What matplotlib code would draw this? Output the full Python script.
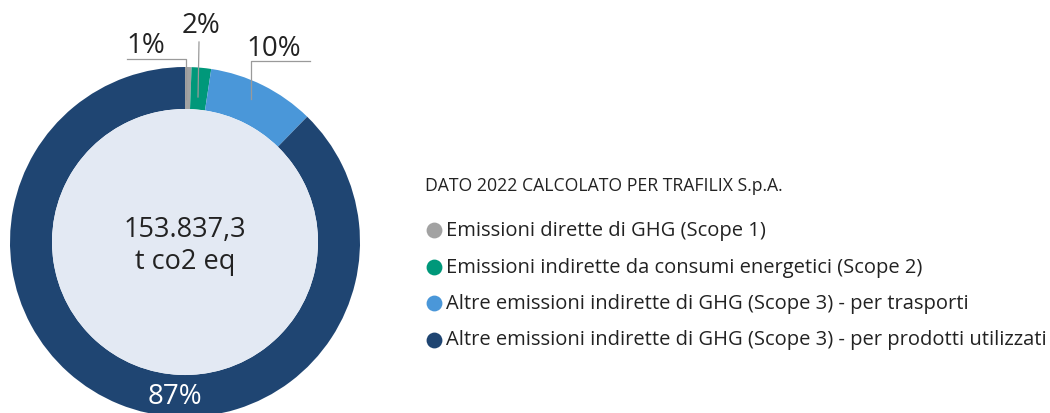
import matplotlib.pyplot as plt
from matplotlib.patches import Circle

plt.rcParams['font.family'] = ['Open Sans', 'DejaVu Sans']

# quote percentuali delle emissioni (t co2 eq)
valori = [0.6, 1.8, 9.9, 87.7]
etichette = ["1%", "2%", "10%", "87%"]
voci = ["Emissioni dirette di GHG (Scope 1)",
        "Emissioni indirette da consumi energetici (Scope 2)",
        "Altre emissioni indirette di GHG (Scope 3) - per trasporti",
        "Altre emissioni indirette di GHG (Scope 3) - per prodotti utilizzati"]
colori = ["#a2a2a2", "#00987a", "#4a97d9", "#1f4572"]
totale = "153.837,3\nt co2 eq"
titolo = "DATO 2022 CALCOLATO PER TRAFILIX S.p.A."

W, H = 1050, 414
fig = plt.figure(figsize=(W / 100, H / 100), dpi=100)
ax = fig.add_axes([0, 0, 1, 1])

def Y(y):
    return H - y

cx, cy, R, r = 185, Y(243), 175, 133
ax.pie(valori, colors=colori, startangle=90, counterclock=False,
       radius=R, center=(cx, cy), wedgeprops=dict(width=R - r, linewidth=0))
ax.add_patch(Circle((cx, cy), r, facecolor="#e3e9f3", edgecolor="none"))

ax.text(cx, Y(246), totale, ha="center", va="center", fontsize=19.5,
        color="#222222", linespacing=1.2)

# linee guida e etichette
lc = "#9a9a9a"
ax.plot([127, 186, 186], [Y(60), Y(60), Y(100)], color=lc, lw=0.9)
ax.plot([199, 198], [Y(43), Y(98)], color=lc, lw=0.9)
ax.plot([310, 251, 251], [Y(62), Y(62), Y(100)], color=lc, lw=0.9)
ax.text(146, Y(46), etichette[0], ha="center", va="center", fontsize=20, color="#222222")
ax.text(201, Y(26), etichette[1], ha="center", va="center", fontsize=20, color="#222222")
ax.text(274, Y(49), etichette[2], ha="center", va="center", fontsize=20, color="#222222")
ax.text(175, Y(397), etichette[3], ha="center", va="center", fontsize=20, color="white")

# legenda
ax.text(425, Y(186), titolo, ha="left", va="center", fontsize=12.7, color="#222222")
for i, (v, c) in enumerate(zip(voci, colori)):
    yy = Y(231 + i * 36.5)
    ax.scatter([434], [yy], s=130, color=c, linewidths=0)
    ax.text(446, yy, v, ha="left", va="center", fontsize=14.5, color="#222222")

ax.set_xlim(0, W)
ax.set_ylim(0, H)
ax.set_aspect("auto")
ax.axis("off")
fig.savefig("out.png", dpi=100)
